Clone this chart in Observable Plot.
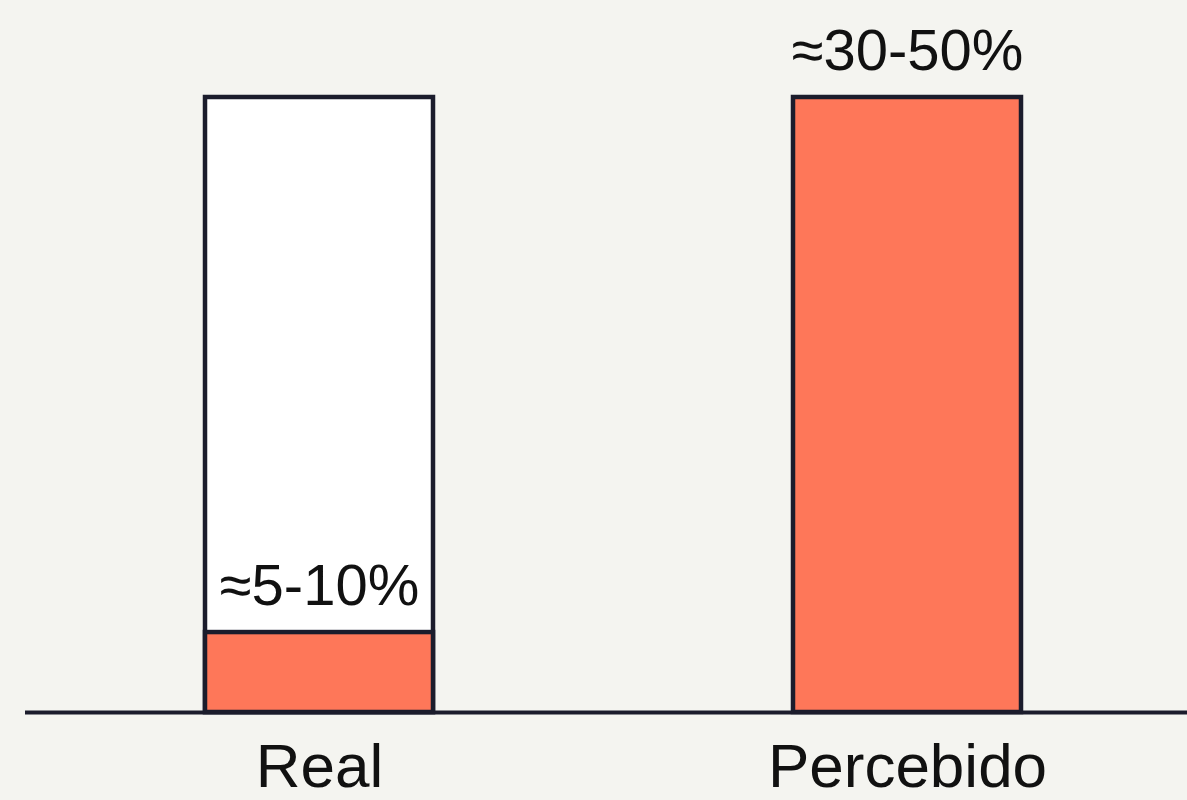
<!DOCTYPE html>
<html>
<head>
<meta charset="utf-8">
<script src="https://cdn.jsdelivr.net/npm/d3@7"></script>
<script src="https://cdn.jsdelivr.net/npm/@observablehq/plot@0.6"></script>
<style>
  html, body { margin: 0; padding: 0; background: #f4f4f0; overflow: hidden; }
  #chart svg { display: block; }
</style>
</head>
<body>
<div id="chart"></div>
<script>
const categories = ["Real", "Percebido"];
const fillValues = [13, 100];
const labels = ["≈5-10%", "≈30-50%"];
const containerCategories = ["Real"];
const containerValues = [100];

const fills = categories.map((c, i) => ({cat: c, value: fillValues[i], label: labels[i]}));
const containers = containerCategories.map((c, i) => ({cat: c, value: containerValues[i]}));

const ink = "#1b1c2c";
const red = "#fe7759";

const chart = Plot.plot({
  width: 1187,
  height: 800,
  marginTop: 97,
  marginBottom: 88,
  marginLeft: 25,
  marginRight: 0,
  style: {background: "#f4f4f0", fontFamily: "'Liberation Sans', Arial, Helvetica, sans-serif", color: "#111"},
  x: {domain: categories, paddingInner: 0.612, paddingOuter: 0.294, align: 0.52, label: null},
  y: {domain: [0, 100], axis: null},
  marks: [
    Plot.barY(containers, {x: "cat", y: "value", fill: "#ffffff", stroke: ink, strokeWidth: 4.5}),
    Plot.barY(fills, {x: "cat", y: "value", fill: red, stroke: ink, strokeWidth: 4.5}),
    Plot.text(fills, {x: "cat", y: "value", text: "label", lineAnchor: "bottom", dy: -28, fontSize: 58, fill: "#111"}),
    Plot.ruleY([0], {stroke: ink, strokeWidth: 4}),
    Plot.axisX({tickSize: 0, tickPadding: 30, fontSize: 62, fill: "#111", label: null})
  ]
});
document.getElementById("chart").append(chart);
</script>
</body>
</html>
